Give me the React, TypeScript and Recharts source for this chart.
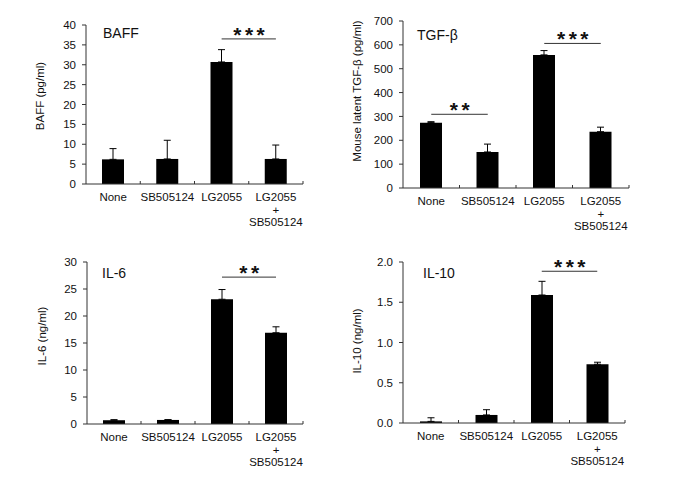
import { BarChart, Bar, XAxis, YAxis, ErrorBar, ReferenceLine } from 'recharts';

// groups on the x axis (same for all four panels)
const groups = ['None', 'SB505124', 'LG2055', 'LG2055\n+\nSB505124'];

// BAFF (pg/ml)
const baffMean = [6.2, 6.3, 30.7, 6.3];
const baffErr = [2.7, 4.7, 3.1, 3.5];
const baffTicks = [0, 5, 10, 15, 20, 25, 30, 35, 40];

// Mouse latent TGF-β (pg/ml)
const tgfMean = [274, 151, 558, 236];
const tgfErr = [4, 33, 18, 19];
const tgfTicks = [0, 100, 200, 300, 400, 500, 600, 700];

// IL-6 (ng/ml)
const il6Mean = [0.7, 0.75, 23.1, 16.9];
const il6Err = [0.1, 0.06, 1.8, 1.1];
const il6Ticks = [0, 5, 10, 15, 20, 25, 30];

// IL-10 (ng/ml)
const il10Mean = [0.02, 0.1, 1.59, 0.73];
const il10Err = [0.045, 0.065, 0.17, 0.025];
const il10Ticks = [0, 0.5, 1.0, 1.5, 2.0];

const FONT = '"Liberation Sans", Arial, sans-serif';
const INK = '#111';
const AXIS = '#333';

type Sig = { from: number; to: number; y: number; stars: string };

type PanelProps = {
  left: number;
  top: number;
  width: number;
  height: number;
  margin: { top: number; right: number; bottom: number; left: number };
  yWidth: number;
  mean: number[];
  err: number[];
  ticks: number[];
  decimals: number;
  title: string;
  titleX: number;
  titleY: number;
  yLabel: string;
  yLabelX: number;
  yLabelY: number;
  sigs: Sig[];
};

function Panel(p: PanelProps) {
  const rows = groups.map((g, i) => ({ name: g, value: p.mean[i], err: [0, p.err[i]] }));
  const plotW = p.width - p.margin.left - p.margin.right - p.yWidth;
  const band = plotW / groups.length;
  const top = p.ticks[p.ticks.length - 1];

  const catTick = (t: any) => {
    const lines = String(t.payload.value).split('\n');
    return (
      <g>
        <line x1={t.x + band / 2} x2={t.x + band / 2} y1={t.y - 3} y2={t.y} stroke={AXIS} />
        <text x={t.x} y={t.y + 17} textAnchor="middle" fontSize={11.5} fill={INK} fontFamily={FONT}>
          {lines.map((l: string, k: number) => (
            <tspan key={k} x={t.x} dy={k === 0 ? 0 : 12.7}>
              {l}
            </tspan>
          ))}
        </text>
      </g>
    );
  };

  const yLabel = () => (
    <text
      x={p.yLabelX}
      y={p.yLabelY}
      transform={`rotate(-90, ${p.yLabelX}, ${p.yLabelY})`}
      textAnchor="middle"
      dominantBaseline="central"
      fontSize={11.5}
      fill={INK}
      fontFamily={FONT}
    >
      {p.yLabel}
    </text>
  );

  return (
    <div style={{ position: 'absolute', left: p.left, top: p.top, width: p.width, height: p.height }}>
      <BarChart width={p.width} height={p.height} data={rows} margin={p.margin} barSize={22}>
        <XAxis
          dataKey="name"
          height={50}
          axisLine={{ stroke: AXIS }}
          tickLine={false}
          tickSize={0}
          tickMargin={0}
          interval={0}
          tick={catTick}
        />
        <YAxis
          width={p.yWidth}
          domain={[0, top]}
          ticks={p.ticks}
          interval={0}
          axisLine={{ stroke: AXIS }}
          tickLine={{ stroke: AXIS }}
          tickSize={4}
          tickMargin={6}
          tick={{ fontSize: 11.5, fill: INK, fontFamily: FONT }}
          tickFormatter={(v: number) => v.toFixed(p.decimals)}
          label={{ content: yLabel }}
        />
        <Bar dataKey="value" fill="#000" isAnimationActive={false}>
          <ErrorBar dataKey="err" width={3.5} stroke="#000" strokeWidth={1} direction="y" />
        </Bar>
        {p.sigs.map((s, i) => (
          <ReferenceLine
            key={i}
            segment={[
              { x: groups[s.from], y: s.y },
              { x: groups[s.to], y: s.y },
            ]}
            stroke={AXIS}
            strokeWidth={1}
            label={{
              content: (l: any) => {
                const vb = l.viewBox || {};
                const cx = (vb.x || 0) + (vb.width || 0) / 2;
                return (
                  <text
                    x={cx + 2}
                    y={(vb.y || 0) + 3}
                    textAnchor="middle"
                    fontSize={21}
                    fontWeight="bold"
                    letterSpacing={3.5}
                    fill={INK}
                    fontFamily={FONT}
                  >
                    {s.stars}
                  </text>
                );
              },
            }}
          />
        ))}
      </BarChart>
      <div
        style={{
          position: 'absolute',
          left: p.titleX,
          top: p.titleY,
          fontFamily: FONT,
          fontSize: 14,
          color: INK,
          lineHeight: '16px',
          whiteSpace: 'nowrap',
        }}
      >
        {p.title}
      </div>
    </div>
  );
}

export default function App() {
  return (
    <div style={{ position: 'absolute', left: 0, top: 0, width: 683, height: 492, background: '#fff' }}>
      <Panel
        left={0}
        top={0}
        width={340}
        height={250}
        margin={{ top: 25, right: 37, bottom: 16, left: 0 }}
        yWidth={86}
        mean={baffMean}
        err={baffErr}
        ticks={baffTicks}
        decimals={0}
        title="BAFF"
        titleX={103}
        titleY={25}
        yLabel="BAFF (pg/ml)"
        yLabelX={40}
        yLabelY={96}
        sigs={[{ from: 2, to: 3, y: 36.5, stars: '***' }]}
      />
      <Panel
        left={340}
        top={0}
        width={343}
        height={250}
        margin={{ top: 21, right: 54, bottom: 12, left: 0 }}
        yWidth={63}
        mean={tgfMean}
        err={tgfErr}
        ticks={tgfTicks}
        decimals={0}
        title="TGF-β"
        titleX={77}
        titleY={27}
        yLabel="Mouse latent TGF-β (pg/ml)"
        yLabelX={17}
        yLabelY={91}
        sigs={[
          { from: 0, to: 1, y: 309, stars: '**' },
          { from: 2, to: 3, y: 606, stars: '***' },
        ]}
      />
      <Panel
        left={0}
        top={250}
        width={340}
        height={242}
        margin={{ top: 12, right: 37, bottom: 18, left: 0 }}
        yWidth={87}
        mean={il6Mean}
        err={il6Err}
        ticks={il6Ticks}
        decimals={0}
        title="IL-6"
        titleX={102}
        titleY={15}
        yLabel="IL-6 (ng/ml)"
        yLabelX={42}
        yLabelY={86}
        sigs={[{ from: 2, to: 3, y: 27.2, stars: '**' }]}
      />
      <Panel
        left={340}
        top={250}
        width={343}
        height={242}
        margin={{ top: 12, right: 58, bottom: 19, left: 0 }}
        yWidth={63}
        mean={il10Mean}
        err={il10Err}
        ticks={il10Ticks}
        decimals={1}
        title="IL-10"
        titleX={83}
        titleY={15}
        yLabel="IL-10 (ng/ml)"
        yLabelX={17}
        yLabelY={91}
        sigs={[{ from: 2, to: 3, y: 1.885, stars: '***' }]}
      />
    </div>
  );
}
